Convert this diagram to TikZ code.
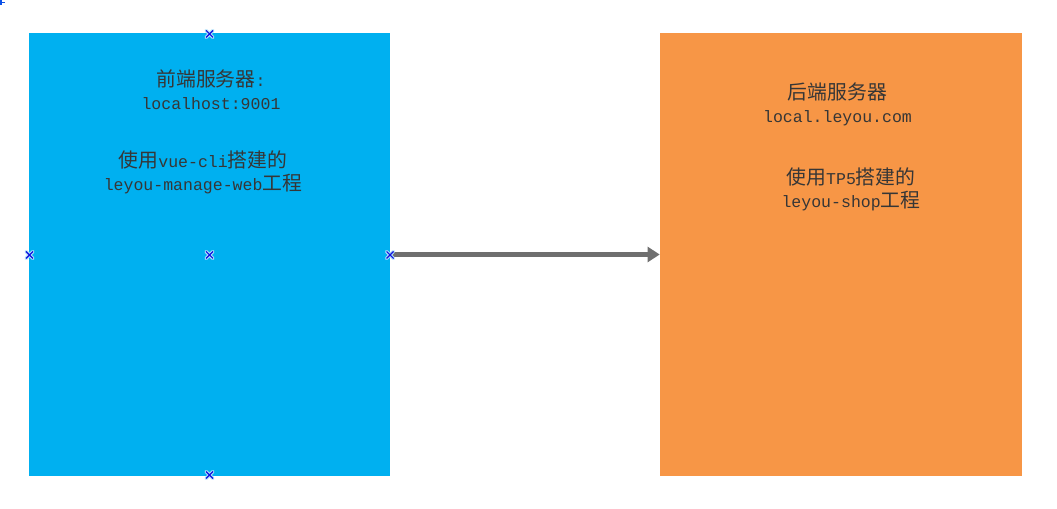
\documentclass[tikz,border=0pt]{standalone}
\usepackage{fontspec}
\setmainfont{Liberation Mono}
\newfontfamily\cjkf[Scale=1.2]{Noto Sans CJK SC}
\usetikzlibrary{arrows.meta}
\definecolor{feblue}{HTML}{00B0F0}
\definecolor{beorange}{HTML}{F79646}
\definecolor{txt}{HTML}{363636}
\definecolor{arr}{HTML}{6F6F6F}
\definecolor{hdark}{HTML}{1010E0}
\definecolor{hlight}{HTML}{B0E0FA}
\newcommand\zh[1]{{\cjkf #1}}
\tikzset{
  box/.style={draw=none, minimum height=332.25pt, inner sep=0pt},
  label text/.style={text=txt, align=center, inner sep=0pt,
    font=\fontsize{12.4}{17.25}\selectfont},
  conn/.style={draw=arr, line width=3.3pt, -{Triangle[length=9pt,width=11pt]}},
  handlemark/.pic={
    \draw[hlight, line width=2.4pt, line cap=round] (-3.5,-3.5) -- (3.5,3.5) (-3.5,3.5) -- (3.5,-3.5);
    \draw[hdark, line width=0.8pt] (-3.5,-3.5) -- (3.5,3.5) (-3.5,3.5) -- (3.5,-3.5);
  }
}
\begin{document}
\begin{tikzpicture}[x=0.75pt,y=-0.75pt]
\useasboundingbox (0,0) rectangle (1057,509);
\fill[white] (0,0) rectangle (1057,509);
\node[box, fill=feblue, minimum width=270.75pt] (fe) at (209.5,254.5) {};
\node[box, fill=beorange, minimum width=271.5pt] (be) at (841,254.5) {};
\node[label text] (fe1) at (211,90) {\zh{前端服务器}:\\localhost:9001};
\node[label text] (fe2) at (203,172) {\zh{使用}vue-cli\zh{搭建的}\\leyou-manage-web\zh{工程}};
\node[label text] (be1) at (837.5,104) {\zh{后端服务器}\\local.leyou.com};
\node[label text] (be2) at (851,189) {\zh{使用}TP5\zh{搭建的}\\leyou-shop\zh{工程}};
\draw[conn] (fe.east) -- (be.west);
\coordinate (h1) at (209.5,34);
\coordinate (h2) at (29.5,255);
\coordinate (h3) at (209.5,255);
\coordinate (h4) at (390,255);
\coordinate (h5) at (209.5,475);
\foreach \h in {h1,h2,h3,h4,h5} \pic at (\h) {handlemark};
\coordinate (corner) at (0,0);
\draw[hdark!60!feblue, line width=0.8pt] (corner) ++(0,2.5) -- ++(5,0) (corner) ++(1,0) -- ++(0,5);
\end{tikzpicture}
\end{document}
